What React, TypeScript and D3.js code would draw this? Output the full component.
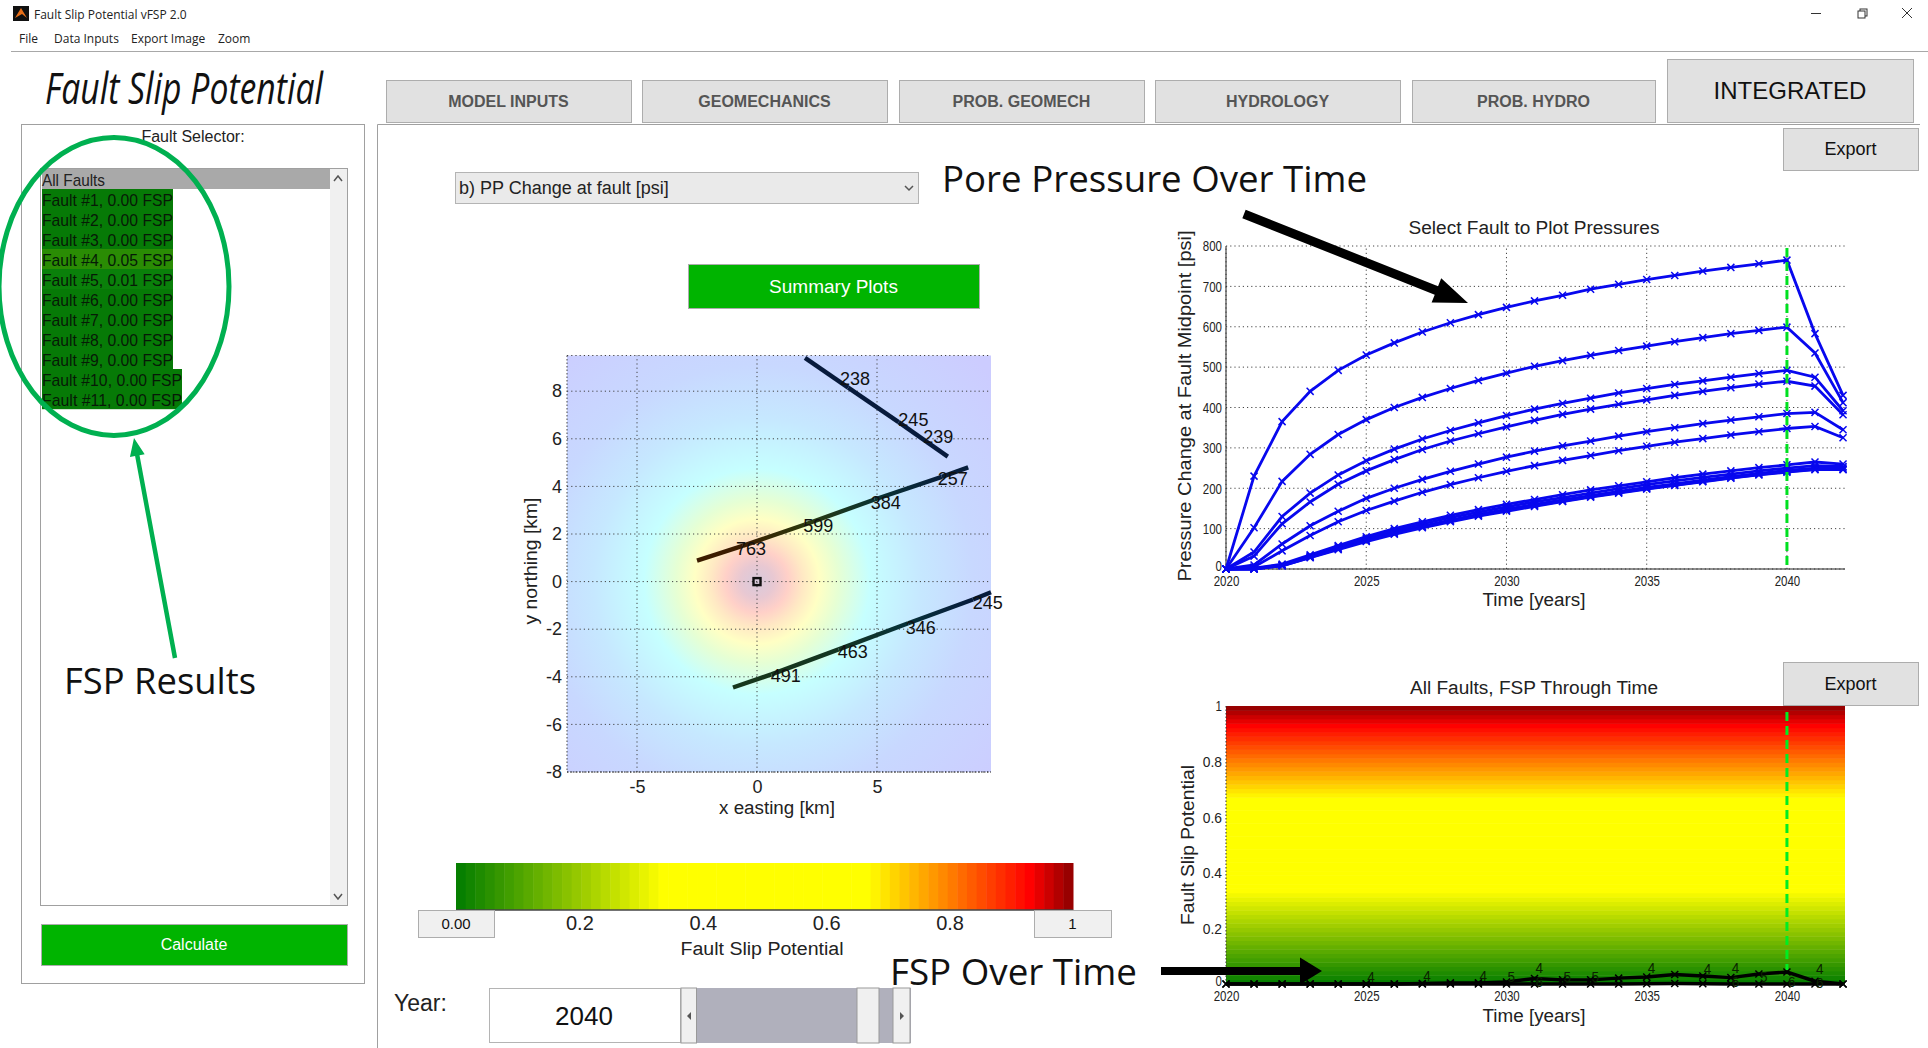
import React, { useEffect, useRef } from 'react';
import * as d3 from 'd3';

const years = [2020, 2021, 2022, 2023, 2024, 2025, 2026, 2027, 2028, 2029, 2030, 2031, 2032, 2033, 2034, 2035, 2036, 2037, 2038, 2039, 2040, 2041, 2042];

// pressure at fault midpoint [psi], one list per fault
const pp1 = [0, 230, 365, 440, 492, 530, 560, 587, 610, 630, 648, 664, 678, 693, 705, 717, 727, 738, 747, 756, 765, 583, 430];
const pp2 = [0, 102, 217, 284, 333, 370, 400, 425, 447, 467, 485, 502, 516, 529, 541, 552, 563, 573, 583, 591, 599, 535, 412];
const pp3 = [0, 42, 130, 188, 233, 268, 297, 322, 343, 362, 380, 396, 410, 423, 436, 447, 457, 466, 475, 484, 492, 475, 392];
const pp4 = [0, 32, 112, 166, 210, 243, 271, 296, 317, 335, 352, 368, 383, 396, 408, 419, 430, 440, 449, 458, 465, 453, 382];
const pp5 = [0, 10, 62, 107, 143, 175, 200, 222, 242, 260, 277, 292, 305, 317, 329, 340, 350, 360, 369, 377, 385, 388, 345];
const pp6 = [0, 5, 45, 83, 117, 145, 168, 190, 209, 226, 242, 256, 269, 281, 293, 304, 314, 323, 332, 340, 348, 353, 325];
const pp7 = [0, 2, 12, 35, 58, 80, 100, 117, 133, 147, 160, 172, 184, 196, 206, 216, 226, 235, 243, 251, 258, 265, 260];
const pp8 = [0, 1, 10, 32, 55, 76, 95, 112, 127, 141, 154, 166, 177, 188, 199, 209, 218, 227, 235, 243, 250, 256, 254];
const pp9 = [0, 0, 9, 30, 52, 72, 90, 106, 121, 135, 148, 160, 171, 182, 192, 202, 211, 220, 229, 237, 244, 250, 250];
const pp10 = [0, 0, 8, 29, 50, 70, 88, 104, 119, 132, 145, 157, 168, 179, 189, 199, 208, 217, 226, 234, 241, 247, 247];
const pp11 = [0, 0, 8, 28, 48, 68, 86, 102, 117, 131, 143, 155, 167, 178, 188, 198, 207, 216, 225, 233, 240, 246, 246];
const ppSeries = [pp1, pp2, pp3, pp4, pp5, pp6, pp7, pp8, pp9, pp10, pp11];

// FSP through time
const fspMain = [0, 0, 0, 0, 0, 0, 0, 0.002, 0.004, 0.004, 0.007, 0.02, 0.015, 0.015, 0.021, 0.025, 0.034, 0.029, 0.023, 0.036, 0.043, 0.01, 0];
const fspSecond = [0, 0, 0, 0, 0, 0, 0, 0, 0, 0, 0, 0, 0, 0, 0, 0.001, 0.002, 0.001, 0, 0, 0, 0, 0];
const fspLabels: [number, string, number][] = [
  [2025, '4', 0.03], [2027, '4', 0.032], [2029, '4', 0.034], [2030, '5', 0.03], [2031, '4', 0.06], [2031, '6', 0.012],
  [2032, '5', 0.03], [2033, '5', 0.03], [2035, '4', 0.06], [2037, '4', 0.056], [2038, '4', 0.06], [2038, '6', 0.012],
  [2039, '5', 0.028], [2040, '6', 0.012], [2041, '4', 0.056], [2041, '6', 0.006],
];

const ppTicks = [0, 100, 200, 300, 400, 500, 600, 700, 800];
const yearTicks = [2020, 2025, 2030, 2035, 2040];
const fspTicks = [0, 0.2, 0.4, 0.6, 0.8, 1];
const barTicks = [0.2, 0.4, 0.6, 0.8];

const fspStops = [0, 0.335, 0.667, 0.93, 1];
const fspColors = ['#007c00', '#ffff00', '#ffff00', '#ff0000', '#8b0000'];

const faultRows = ['0.00', '0.00', '0.00', '0.05', '0.01', '0.00', '0.00', '0.00', '0.00', '0.00', '0.00'];

// map: fault traces as [x km, y km, psi]
const faultA = [[2, 9.4, 238], [3.8, 8.15, 238], [5.9, 6.7, 245], [7.95, 5.25, 239]];
const faultB = [[-2.5, 0.88, 763], [-0.6, 1.5, 763], [2, 2.4, 599], [4.9, 3.45, 384], [7.7, 4.4, 257], [8.8, 4.8, 257]];
const faultC = [[-1, -4.45, 491], [0.6, -3.9, 491], [3.4, -2.85, 463], [6.3, -1.75, 346], [9, -0.75, 245], [9.75, -0.45, 245]];
const faults = [faultA, faultB, faultC];
const faultPsi = [240, 350, 490, 600, 763];
const faultHues = ['#071a3c', '#06323a', '#16361c', '#2c3a0c', '#3c1c00'];

const mapLabels: [number, number, string][] = [
  [3.46, 8.5, '238'], [5.89, 6.79, '245'], [6.93, 6.09, '239'], [7.53, 4.3, '257'], [4.74, 3.32, '384'], [1.93, 2.34, '599'],
  [-0.875, 1.36, '763'], [8.99, -0.88, '245'], [6.2, -1.94, '346'], [3.36, -2.94, '463'], [0.57, -3.97, '491'],
];
const mapXTicks = [-5, 0, 5];
const mapYTicks = [-8, -6, -4, -2, 0, 2, 4, 6, 8];

// pressure field colours by distance from the well [km]
const fieldRadius = [0, 0.7, 1.3, 1.9, 2.6, 3.4, 4.7, 6.8, 9, 13];
const fieldColors = ['#d8cadc', '#e8c8d2', '#ffd0c8', '#ffe8c4', '#ffffc4', '#e6ffd4', '#c6ffff', '#c6e8ff', '#c8d8ff', '#ccccff'];

const tabs: [string, number, number][] = [
  ['MODEL INPUTS', 386, 245], ['GEOMECHANICS', 642, 245], ['PROB. GEOMECH', 899, 245], ['HYDROLOGY', 1155, 245], ['PROB. HYDRO', 1412, 243],
];

const SANS = '"Liberation Sans", Arial, sans-serif';
const NARROW = '"Liberation Sans Narrow", "Liberation Sans", sans-serif';
const CALLOUT = '"Open Sans", sans-serif';

const arrow = (x1: number, y1: number, x2: number, y2: number, w: number, hw: number, hl: number) => {
  const len = Math.hypot(x2 - x1, y2 - y1);
  const ux = (x2 - x1) / len;
  const uy = (y2 - y1) / len;
  const bx = x2 - ux * hl;
  const by = y2 - uy * hl;
  const p = (x: number, y: number, o: number) => `${x - uy * o},${y + ux * o}`;
  return [p(x1, y1, w / 2), p(bx, by, w / 2), p(bx, by, hw / 2), p(x2, y2, 0), p(bx, by, -hw / 2), p(bx, by, -w / 2), p(x1, y1, -w / 2)].join(' ');
};

const Button = ({ x, y, w, h, label, size = 17, bold = false, fill = '#e1e1e1', color = '#111' }: any) => (
  <g>
    <rect x={x + 0.5} y={y + 0.5} width={w} height={h} fill={fill} stroke="#adadad" />
    <text x={x + w / 2} y={y + h / 2 + size * 0.36} textAnchor="middle" fontSize={size} fontWeight={bold ? 700 : 400} fill={color} fontFamily={SANS}>{label}</text>
  </g>
);

const App = () => {
  const ppRef = useRef<SVGGElement>(null);
  const fspRef = useRef<SVGGElement>(null);
  const mapRef = useRef<SVGGElement>(null);
  const barRef = useRef<SVGGElement>(null);

  useEffect(() => {
    const color = d3.scaleLinear<string>().domain(fspStops).range(fspColors).interpolate(d3.interpolateRgb);
    const x = d3.scaleLinear().domain([2020, 2042.07]).range([1226, 1845]);

    const styleTicks = (g: any, size: number, family: string) => {
      g.select('.domain').remove();
      g.selectAll('line').remove();
      g.selectAll('text').attr('font-size', size).attr('font-family', family).attr('fill', '#222');
    };
    // the GUI squeezes its tick digits, so fit each label to a narrow width
    const squeeze = (g: any) => {
      g.selectAll('text').each(function (this: any) {
        const t = d3.select(this);
        t.attr('textLength', t.text().length * 6.4).attr('lengthAdjust', 'spacingAndGlyphs');
      });
    };
    // lift the y axis zero so it clears the first year label
    const liftZero = (g: any) => {
      g.selectAll('text').filter((d: any) => d === 0).attr('y', -3).attr('x', -4);
    };

    // pressure chart
    const pp = d3.select(ppRef.current);
    pp.selectAll('*').remove();
    const yP = d3.scaleLinear().domain([0, 800]).range([569, 246]);
    const grid = (g: any, xs: number[], ys: number[], sx: any, sy: any, x0: number, x1: number, y0: number, y1: number) => {
      g.selectAll('.gx').data(xs).enter().append('line').attr('x1', sx).attr('x2', sx).attr('y1', y0).attr('y2', y1);
      g.selectAll('.gy').data(ys).enter().append('line').attr('y1', sy).attr('y2', sy).attr('x1', x0).attr('x2', x1);
      g.selectAll('line').attr('stroke', '#444').attr('stroke-width', 1).attr('stroke-dasharray', '1.2 3');
    };
    grid(pp.append('g'), yearTicks, ppTicks, x, yP, 1226, 1845, 569, 246);
    pp.append('line').attr('x1', 1226).attr('x2', 1845).attr('y1', 569).attr('y2', 569).attr('stroke', '#222');
    pp.append('line').attr('x1', 1226).attr('x2', 1226).attr('y1', 569).attr('y2', 246).attr('stroke', '#222');
    const ppLine = d3.line<number>().x((_, i) => x(years[i])).y((d) => yP(d));
    const times = d3.symbol().type(d3.symbolTimes).size(34);
    ppSeries.forEach((s) => {
      pp.append('path').attr('d', ppLine(s)).attr('fill', 'none').attr('stroke', '#0808ee').attr('stroke-width', 2.8);
      pp.append('g').selectAll('path').data(s).enter().append('path')
        .attr('d', times)
        .attr('transform', (d, i) => `translate(${x(years[i])},${yP(d)})`)
        .attr('fill', 'none').attr('stroke', '#0808ee').attr('stroke-width', 1.5);
    });
    pp.append('line').attr('x1', x(2040)).attr('x2', x(2040)).attr('y1', 248).attr('y2', 566)
      .attr('stroke', '#00e020').attr('stroke-width', 3).attr('stroke-dasharray', '9 5');
    pp.append('g').attr('transform', 'translate(0,569)')
      .call(d3.axisBottom(x).tickValues(yearTicks).tickFormat(d3.format('d')).tickSize(0).tickPadding(6))
      .call((g) => styleTicks(g, 15, NARROW)).call(squeeze);
    pp.append('g').attr('transform', 'translate(1226,0)')
      .call(d3.axisLeft(yP).tickValues(ppTicks).tickSize(0).tickPadding(4))
      .call((g) => styleTicks(g, 15, NARROW)).call(squeeze).call(liftZero);

    // FSP chart
    const fsp = d3.select(fspRef.current);
    fsp.selectAll('*').remove();
    const yF = d3.scaleLinear().domain([0, 1]).range([984, 706]);
    const bands = d3.range(64);
    fsp.append('g').selectAll('rect').data(bands).enter().append('rect')
      .attr('x', 1226).attr('width', 619)
      .attr('y', (d) => yF((d + 1) / 64))
      .attr('height', (d) => yF(d / 64) - yF((d + 1) / 64) + 0.5)
      .attr('fill', (d) => color((d + 0.5) / 64));
    fsp.append('line').attr('x1', 1226).attr('x2', 1226).attr('y1', 984).attr('y2', 706).attr('stroke', '#333').attr('stroke-dasharray', '1.5 2');
    fsp.append('line').attr('x1', x(2040)).attr('x2', x(2040)).attr('y1', 712).attr('y2', 970)
      .attr('stroke', '#00ee22').attr('stroke-width', 3).attr('stroke-dasharray', '9 5');
    const fLine = d3.line<number>().x((_, i) => x(years[i])).y((d) => yF(d));
    [fspMain, fspSecond].forEach((s) => {
      fsp.append('path').attr('d', fLine(s)).attr('fill', 'none').attr('stroke', '#000').attr('stroke-width', 3.4);
      fsp.append('g').selectAll('path').data(s).enter().append('path')
        .attr('d', times)
        .attr('transform', (d, i) => `translate(${x(years[i])},${yF(d)})`)
        .attr('fill', 'none').attr('stroke', '#000').attr('stroke-width', 1.5);
    });
    fsp.append('g').selectAll('text').data(fspLabels).enter().append('text')
      .attr('x', (d) => x(d[0]) + 1).attr('y', (d) => yF(d[2]) + 6)
      .attr('font-size', 15).attr('font-family', NARROW).attr('fill', '#0a2200')
      .attr('textLength', 7.5).attr('lengthAdjust', 'spacingAndGlyphs')
      .text((d) => d[1]);
    fsp.append('g').attr('transform', 'translate(0,984)')
      .call(d3.axisBottom(x).tickValues(yearTicks).tickFormat(d3.format('d')).tickSize(0).tickPadding(6))
      .call((g) => styleTicks(g, 15, NARROW)).call(squeeze);
    fsp.append('g').attr('transform', 'translate(1226,0)')
      .call(d3.axisLeft(yF).tickValues(fspTicks).tickFormat(d3.format('')).tickSize(0).tickPadding(4))
      .call((g) => styleTicks(g, 15, NARROW)).call(squeeze).call(liftZero);

    // map
    const map = d3.select(mapRef.current);
    map.selectAll('*').remove();
    const mx = d3.scaleLinear().domain([-8, 9.75]).range([565, 991]);
    const my = d3.scaleLinear().domain([-8, 9.5]).range([772, 355.5]);
    const grad = map.append('radialGradient').attr('id', 'field').attr('gradientUnits', 'userSpaceOnUse')
      .attr('cx', mx(0)).attr('cy', my(0)).attr('r', 13 * 24);
    fieldRadius.forEach((r, i) => {
      grad.append('stop').attr('offset', r / 13).attr('stop-color', fieldColors[i]);
    });
    map.append('rect').attr('x', 567).attr('y', 355.5).attr('width', 424).attr('height', 416.5).attr('fill', 'url(#field)');
    grid(map.append('g'), mapXTicks, mapYTicks.concat([9.5]), mx, my, 567, 991, 772, 355.5);
    map.append('line').attr('x1', 567).attr('x2', 567).attr('y1', 355.5).attr('y2', 772).attr('stroke', '#444').attr('stroke-dasharray', '1.5 2');
    map.append('line').attr('x1', 567).attr('x2', 991).attr('y1', 772).attr('y2', 772).attr('stroke', '#222').attr('stroke-dasharray', '1.5 1.5');

    const hue = d3.scaleLinear<string>().domain(faultPsi).range(faultHues);
    faults.forEach((f) => {
      d3.pairs(f).forEach(([a, b]) => {
        const id = `seg${a[0]}_${a[1]}`.replace(/\./g, 'd').replace(/-/g, 'm');
        const lg = map.append('linearGradient').attr('id', id).attr('gradientUnits', 'userSpaceOnUse')
          .attr('x1', mx(a[0])).attr('y1', my(a[1])).attr('x2', mx(b[0])).attr('y2', my(b[1]));
        lg.append('stop').attr('offset', 0).attr('stop-color', hue(a[2]));
        lg.append('stop').attr('offset', 1).attr('stop-color', hue(b[2]));
        map.append('line').attr('x1', mx(a[0])).attr('y1', my(a[1])).attr('x2', mx(b[0])).attr('y2', my(b[1]))
          .attr('stroke', `url(#${id})`).attr('stroke-width', 4.4);
      });
    });
    map.append('rect').attr('x', mx(0) - 3.5).attr('y', my(0) - 3.5).attr('width', 7).attr('height', 7)
      .attr('fill', 'none').attr('stroke', '#111').attr('stroke-width', 2.4);
    map.append('g').selectAll('text').data(mapLabels).enter().append('text')
      .attr('x', (d) => mx(d[0])).attr('y', (d) => my(d[1]) + 6)
      .attr('font-size', 18).attr('font-family', SANS).attr('fill', '#111').text((d) => d[2]);
    map.append('g').attr('transform', 'translate(0,772)')
      .call(d3.axisBottom(mx).tickValues(mapXTicks).tickFormat(d3.format('d')).tickSize(0).tickPadding(8))
      .call((g) => styleTicks(g, 18, SANS))
      .call((g) => g.selectAll('text').text((d: any) => String(d)));
    map.append('g').attr('transform', 'translate(567,0)')
      .call(d3.axisLeft(my).tickValues(mapYTicks).tickSize(0).tickPadding(5))
      .call((g) => styleTicks(g, 18, SANS))
      .call((g) => g.selectAll('text').text((d: any) => String(d)));

    // colour bar
    const bar = d3.select(barRef.current);
    bar.selectAll('*').remove();
    const bx = d3.scaleLinear().domain([0, 1]).range([456, 1073]);
    bar.append('g').selectAll('rect').data(bands).enter().append('rect')
      .attr('x', (d) => bx(d / 64)).attr('y', 863).attr('height', 47)
      .attr('width', (d) => bx((d + 1) / 64) - bx(d / 64) + 0.5)
      .attr('fill', (d) => color((d + 0.5) / 64));
    bar.append('line').attr('x1', 456).attr('x2', 1073).attr('y1', 910).attr('y2', 910).attr('stroke', '#444').attr('stroke-width', 1.5);
    bar.append('g').attr('transform', 'translate(0,910)')
      .call(d3.axisBottom(bx).tickValues(barTicks).tickSize(0).tickPadding(6))
      .call((g) => styleTicks(g, 20, NARROW));
  }, []);

  return (
    <svg width={1928} height={1048} viewBox="0 0 1928 1048" style={{ position: 'absolute', left: 0, top: 0, display: 'block', background: '#fff' }}>
      {/* window chrome */}
      <rect x={13} y={6} width={16} height={15} fill="#111" />
      <polygon points="15,18 21,8 27,18 22,14" fill="#e8701a" />
      <text x={34} y={19} fontSize={12} fontFamily={CALLOUT} fill="#222">Fault Slip Potential vFSP 2.0</text>
      <text x={19} y={43} fontSize={12} fontFamily={CALLOUT} fill="#222">File</text>
      <text x={54} y={43} fontSize={12} fontFamily={CALLOUT} fill="#222">Data Inputs</text>
      <text x={131} y={43} fontSize={12} fontFamily={CALLOUT} fill="#222">Export Image</text>
      <text x={218} y={43} fontSize={12} fontFamily={CALLOUT} fill="#222">Zoom</text>
      <line x1={11} x2={1928} y1={51.5} y2={51.5} stroke="#a8a8a8" />
      <line x1={1811} x2={1821} y1={13.5} y2={13.5} stroke="#333" />
      <rect x={1860} y={9} width={7} height={7} fill="none" stroke="#333" />
      <rect x={1858} y={11} width={7} height={7} fill="#fff" stroke="#333" />
      <path d="M1902,8 L1912,18 M1912,8 L1902,18" stroke="#333" />

      <text x={45} y={104} fontSize={44} fontStyle="italic" fontFamily={CALLOUT} fill="#111" textLength={278} lengthAdjust="spacingAndGlyphs">Fault Slip Potential</text>

      {/* tabs */}
      {tabs.map(([label, x, w]) => (
        <Button key={label} x={x} y={80} w={w} h={42} label={label} size={16} bold color="#555" />
      ))}
      <Button x={1667} y={59} w={246} h={63} label="INTEGRATED" size={24} />

      {/* panels */}
      <rect x={21.5} y={124.5} width={343} height={859} fill="#fff" stroke="#a0a0a0" />
      <path d="M377.5,1048 L377.5,124.5 L1920,124.5" fill="none" stroke="#a0a0a0" />
      <text x={193} y={142} textAnchor="middle" fontSize={16} fontFamily={SANS} fill="#222">Fault Selector:</text>

      {/* list box */}
      <rect x={40.5} y={168.5} width={307} height={737} fill="#fff" stroke="#a0a0a0" />
      <rect x={330} y={169} width={17} height={736} fill="#f0f0f0" />
      <path d="M334,181 L338,176 L342,181 M334,894 L338,899 L342,894" fill="none" stroke="#555" strokeWidth={1.5} />
      <rect x={42} y={169} width={288} height={20} fill="#a9a9a9" />
      <text x={42} y={186} fontSize={17} fontFamily={SANS} fill="#222" textLength={63} lengthAdjust="spacingAndGlyphs">All Faults</text>
      {faultRows.map((v, i) => {
        const label = `Fault #${i + 1}, ${v} FSP`;
        const w = i >= 9 ? 140 : 131;
        return (
          <g key={label}>
            <rect x={42} y={189 + i * 20} width={w} height={20.2} fill={v === '0.05' ? '#2a8c04' : v === '0.01' ? '#0a800a' : '#067a06'} />
            <text x={42} y={206 + i * 20} fontSize={17} fontFamily={SANS} fill="#061a06" textLength={w} lengthAdjust="spacingAndGlyphs">{label}</text>
          </g>
        );
      })}
      <Button x={41} y={924} w={306} h={41} label="Calculate" size={16} fill="#00b400" color="#fff" />

      {/* dropdown */}
      <rect x={455.5} y={172.5} width={463} height={31} fill="#eaeaea" stroke="#b4b4b4" />
      <text x={459} y={194} fontSize={18} fontFamily={SANS} fill="#222">b) PP Change at fault [psi]</text>
      <path d="M905,186 L909,190 L913,186" fill="none" stroke="#555" strokeWidth={1.5} />
      <Button x={688} y={264} w={291} h={44} label="Summary Plots" size={19} fill="#00b400" color="#fff" />
      <Button x={1783} y={128} w={135} h={42} label="Export" size={18} />
      <Button x={1783} y={662} w={135} h={43} label="Export" size={18} />

      {/* charts */}
      <g ref={mapRef} />
      <g ref={barRef} />
      <g ref={ppRef} />
      <g ref={fspRef} />

      <text x={777} y={814} textAnchor="middle" fontSize={18} fontFamily={SANS} fill="#222" textLength={116} lengthAdjust="spacingAndGlyphs">x easting [km]</text>
      <text transform="translate(537,561) rotate(-90)" textAnchor="middle" fontSize={18} fontFamily={SANS} fill="#222" textLength={127} lengthAdjust="spacingAndGlyphs">y northing [km]</text>
      <Button x={418} y={910} w={76} h={27} label="0.00" size={15} fill="#f0f0f0" />
      <Button x={1034} y={910} w={77} h={27} label="1" size={15} fill="#f0f0f0" />
      <text x={762} y={955} textAnchor="middle" fontSize={18} fontFamily={SANS} fill="#222" textLength={163} lengthAdjust="spacingAndGlyphs">Fault Slip Potential</text>

      <text x={1534} y={234} textAnchor="middle" fontSize={18} fontFamily={SANS} fill="#222" textLength={251} lengthAdjust="spacingAndGlyphs">Select Fault to Plot Pressures</text>
      <text x={1534} y={606} textAnchor="middle" fontSize={18} fontFamily={SANS} fill="#222" textLength={103} lengthAdjust="spacingAndGlyphs">Time [years]</text>
      <text transform="translate(1191,406) rotate(-90)" textAnchor="middle" fontSize={18} fontFamily={SANS} fill="#222" textLength={351} lengthAdjust="spacingAndGlyphs">Pressure Change at Fault Midpoint [psi]</text>
      <text x={1534} y={694} textAnchor="middle" fontSize={18} fontFamily={SANS} fill="#222" textLength={248} lengthAdjust="spacingAndGlyphs">All Faults, FSP Through Time</text>
      <text x={1534} y={1022} textAnchor="middle" fontSize={18} fontFamily={SANS} fill="#222" textLength={103} lengthAdjust="spacingAndGlyphs">Time [years]</text>
      <text transform="translate(1194,845) rotate(-90)" textAnchor="middle" fontSize={18} fontFamily={SANS} fill="#222" textLength={160} lengthAdjust="spacingAndGlyphs">Fault Slip Potential</text>

      {/* year control */}
      <text x={394} y={1011} fontSize={23} fontFamily={SANS} fill="#222">Year:</text>
      <rect x={489.5} y={988.5} width={191} height={54} fill="#fff" stroke="#b4b4b4" />
      <text x={584} y={1025} textAnchor="middle" fontSize={26} fontFamily={SANS} fill="#111">2040</text>
      <rect x={681} y={988} width={230} height={55} fill="#b0b0bc" />
      <rect x={681} y={988} width={15.5} height={55} fill="#f0f0f0" stroke="#999" />
      <rect x={893} y={988} width={17} height={55} fill="#f0f0f0" stroke="#999" />
      <rect x={857} y={988} width={22} height={55} fill="#f0f0f0" stroke="#999" />
      <polygon points="691,1012 691,1020 687,1016" fill="#555" />
      <polygon points="900,1012 900,1020 904,1016" fill="#555" />

      {/* annotations */}
      <text x={942} y={192} fontSize={37} fontFamily={CALLOUT} fill="#111" textLength={425} lengthAdjust="spacingAndGlyphs">Pore Pressure Over Time</text>
      <polygon points={arrow(1244, 214, 1468, 303, 9, 26, 34)} fill="#000" />
      <ellipse cx={114} cy={286.5} rx={115} ry={149} fill="none" stroke="#00b050" strokeWidth={5} />
      <polygon points={arrow(175, 658, 134, 438, 4.5, 15, 18)} fill="#00b050" />
      <text x={64} y={694} fontSize={37} fontFamily={CALLOUT} fill="#111" textLength={192} lengthAdjust="spacingAndGlyphs">FSP Results</text>
      <text x={890} y={985} fontSize={37} fontFamily={CALLOUT} fill="#111" textLength={247} lengthAdjust="spacingAndGlyphs">FSP Over Time</text>
      <polygon points={arrow(1161, 971, 1322, 971, 8, 27, 22)} fill="#000" />
    </svg>
  );
};

export default App;
